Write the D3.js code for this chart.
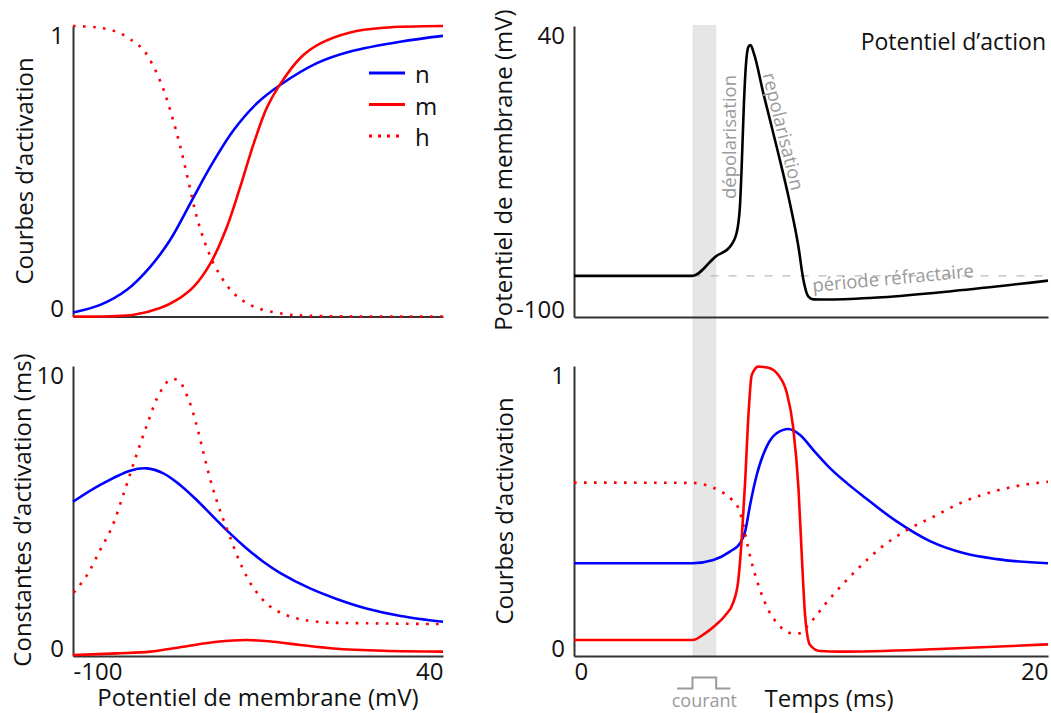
<!DOCTYPE html>
<html><head><meta charset="utf-8">
<script src="https://cdn.jsdelivr.net/npm/d3@7"></script>
<style>
html,body{margin:0;padding:0;background:#fff;}
svg text{font-family:"Open Sans",sans-serif;}
</style></head>
<body><svg id="c" width="1051" height="713"></svg>
<script>
// ---------- DATA ----------
// Steady-state activation (top-left), x = membrane potential (mV)
const nInf = [[-100,0.014],[-89.7,0.04],[-79.6,0.092],[-70.7,0.172],[-63.2,0.264],[-55,0.40],[-48,0.516],[-39.2,0.642],[-30.4,0.734],[-21.6,0.797],[-7.7,0.872],[4.9,0.912],[23.8,0.946],[40,0.966]];
const mInf = [[-100,0],[-77,0.006],[-67,0.029],[-60.7,0.057],[-54.3,0.103],[-48,0.183],[-41.7,0.31],[-36.7,0.447],[-31.6,0.596],[-26.6,0.72],[-21.6,0.80],[-14,0.89],[-6.4,0.94],[4.9,0.978],[17.5,0.994],[40,1.0]];
const hInf = [[-100,1],[-90.9,0.995],[-83.4,0.98],[-77,0.946],[-73.3,0.917],[-69.5,0.86],[-65.7,0.78],[-62.5,0.688],[-59.4,0.585],[-56.2,0.46],[-53.1,0.34],[-49.3,0.235],[-45.5,0.16],[-39.2,0.08],[-31.6,0.034],[-20.3,0.009],[-7.7,0.002],[40,0]];
// Time constants (bottom-left), ms
const tauN = [[-100,5.32],[-89.7,5.9],[-78.4,6.39],[-72.1,6.47],[-65.8,6.30],[-59.5,5.90],[-53.2,5.38],[-46.9,4.80],[-40.6,4.23],[-34.3,3.71],[-28,3.25],[-21.7,2.87],[-10.3,2.33],[0,1.96],[11,1.64],[24,1.38],[40,1.18]];
const tauM = [[-100,0.03],[-83.4,0.09],[-70.8,0.15],[-58.2,0.32],[-45.5,0.49],[-34.2,0.55],[-24.1,0.49],[-14,0.38],[-1.4,0.26],[17.5,0.18],[40,0.15]];
const tauH = [[-99.7,2.18],[-94.7,2.79],[-89.7,3.66],[-85.2,4.46],[-80.8,5.61],[-76.4,6.82],[-72,7.97],[-68.2,8.89],[-65.7,9.29],[-63.2,9.54],[-60,9.49],[-56.2,8.83],[-53.1,7.91],[-50.6,6.99],[-48,6.07],[-44.9,5.15],[-41.1,4.23],[-36.7,3.2],[-31.6,2.33],[-25.3,1.70],[-17.8,1.36],[-7.7,1.18],[11.2,1.13],[40,1.10]];
// Action potential (top-right), x = time (ms), y = mV
const vMem = [[0,-80.2],[5,-80.2],[6,-70.7],[6.58,-66.2],[6.86,-59.6],[7.0,-47],[7.07,-29.3],[7.17,2.9],[7.26,22.2],[7.36,30],[7.45,30.8],[7.59,26.8],[7.99,7.6],[8.55,-18.1],[9.11,-45.3],[9.47,-66.2],[9.68,-82.2],[9.89,-90.2],[10.1,-91.5],[10.8,-91.6],[13,-90.5],[16,-87.5],[20,-82.5]];
// Gating variables over time (bottom-right)
const nT = [[0,0.32],[5,0.32],[5.88,0.331],[6.58,0.36],[7.0,0.388],[7.22,0.429],[7.43,0.521],[7.71,0.624],[8.13,0.722],[8.55,0.768],[9.05,0.783],[9.54,0.762],[10.1,0.71],[10.8,0.648],[11.5,0.597],[12.2,0.551],[13.6,0.465],[15.02,0.396],[16.43,0.355],[17.84,0.334],[20,0.32]];
const mT = [[0,0.055],[5,0.055],[5.53,0.078],[5.98,0.107],[6.37,0.139],[6.72,0.185],[6.93,0.26],[7.07,0.395],[7.22,0.60],[7.36,0.83],[7.5,0.969],[7.78,0.998],[8.2,0.994],[8.62,0.969],[8.97,0.91],[9.25,0.787],[9.47,0.58],[9.61,0.348],[9.75,0.141],[9.96,0.038],[10.38,0.017],[11.2,0.015],[15.4,0.024],[20,0.04]];
const hT = [[0,0.598],[5,0.597],[5.46,0.592],[5.88,0.58],[6.27,0.564],[6.65,0.54],[6.93,0.511],[7.07,0.477],[7.26,0.406],[7.45,0.337],[7.71,0.262],[7.85,0.228],[8.2,0.159],[8.41,0.13],[8.69,0.102],[9.08,0.08],[9.3,0.077],[9.51,0.078],[9.84,0.102],[10.13,0.13],[10.41,0.159],[10.69,0.188],[11.0,0.217],[11.93,0.297],[12.91,0.371],[14.04,0.434],[15.16,0.48],[16.43,0.532],[17.69,0.567],[18.96,0.59],[20,0.601]];
// Stimulus current pulse (ms)
const pulse = [5, 6];
// Tick labels
const vTicks = [-100, 40];
const actTicks = [0, 1];
const tauTicks = [0, 10];
const tTicks = [0, 20];
const legendNames = ["n", "m", "h"];

// ---------- LAYOUT ----------
const svg = d3.select("#c");
const BLUE = "#0000ff", RED = "#ff0000", AX = "#333";
const xL = d3.scaleLinear().domain([-100, 40]).range([73, 443]);
const xR = d3.scaleLinear().domain([0, 20]).range([574, 1048]);
const yTL = d3.scaleLinear().domain([0, 1]).range([316.5, 26]);
const yBL = d3.scaleLinear().domain([0, 10]).range([656, 366]);
const yTR = d3.scaleLinear().domain([-100, 40]).range([317, 26]);
const yBR = d3.scaleLinear().domain([0, 1]).range([656, 366]);

const styles = {
  n: {stroke: BLUE, dash: null},
  m: {stroke: RED, dash: null},
  h: {stroke: RED, dash: "2.6,7.4"},
  v: {stroke: "#000", dash: null}
};
const smooth = d3.curveCatmullRom.alpha(0.5), mono = d3.curveMonotoneX;

function drawLine(data, xs, ys, st, curve) {
  const line = d3.line().x(d => xs(d[0])).y(d => ys(d[1])).curve(curve);
  svg.append("path").datum(data).attr("d", line)
    .attr("fill", "none").attr("stroke", st.stroke).attr("stroke-width", 2.6)
    .attr("stroke-dasharray", st.dash).attr("stroke-linejoin", "round");
}

// gray stimulus band (behind)
svg.append("rect").attr("x", xR(pulse[0])).attr("width", xR(pulse[1]) - xR(pulse[0]))
  .attr("y", 25).attr("height", 631).attr("fill", "#e6e6e6");

// refractory dashed line at resting level
svg.append("line").attr("x1", xR(pulse[0])).attr("x2", xR(20))
  .attr("y1", yTR(vMem[0][1])).attr("y2", yTR(vMem[0][1]))
  .attr("stroke", "#bbb").attr("stroke-width", 1.3).attr("stroke-dasharray", "8,10");

const fmt = d => String(d);
// axes
function yAxis(scale, x, ticks) {
  const g = svg.append("g").attr("transform", `translate(${x},0)`)
    .call(d3.axisLeft(scale).tickValues(ticks).tickSize(0).tickSizeOuter(0).tickPadding(9).tickFormat(fmt));
  g.select(".domain").attr("stroke", AX).attr("stroke-width", 2);
  g.selectAll("text").attr("font-size", 24).attr("fill", "#111").attr("font-family", "Open Sans")
    .attr("dy", d => d === ticks[1] ? "0.74em" : "0em");
  return g;
}
function xAxis(scale, y, ticks, labels) {
  const g = svg.append("g").attr("transform", `translate(0,${y})`)
    .call(d3.axisBottom(scale).tickValues(ticks).tickSize(0).tickSizeOuter(0).tickPadding(7).tickFormat(fmt));
  g.select(".domain").attr("stroke", AX).attr("stroke-width", 2);
  g.selectAll("text").attr("font-size", 24).attr("fill", "#111").attr("font-family", "Open Sans")
    .attr("text-anchor", d => d === ticks[0] ? "start" : "end")
    .attr("opacity", labels ? 1 : 0);
  return g;
}
yAxis(yTL, 73, actTicks); xAxis(xL, 316.5, vTicks, false);
yAxis(yBL, 73, tauTicks); xAxis(xL, 656, vTicks, true);
yAxis(yTR, 574, vTicks); xAxis(xR, 317, tTicks, false);
yAxis(yBR, 574, actTicks); xAxis(xR, 656, tTicks, true);

// curves
drawLine(nInf, xL, yTL, styles.n, smooth);
drawLine(mInf, xL, yTL, styles.m, smooth);
drawLine(hInf, xL, yTL, styles.h, smooth);
drawLine(tauN, xL, yBL, styles.n, smooth);
drawLine(tauM, xL, yBL, styles.m, smooth);
drawLine(tauH, xL, yBL, styles.h, smooth);
drawLine(vMem, xR, yTR, styles.v, mono);
drawLine(nT, xR, yBR, styles.n, mono);
drawLine(mT, xR, yBR, styles.m, mono);
drawLine(hT, xR, yBR, styles.h, mono);

// legend
legendNames.forEach((k, i) => {
  const y = 73 + i * 31.5;
  svg.append("line").attr("x1", 369).attr("x2", 405).attr("y1", y).attr("y2", y)
    .attr("stroke", styles[k].stroke).attr("stroke-width", 3).attr("stroke-dasharray", k === "h" ? "3,6" : null);
  svg.append("text").attr("x", 415).attr("y", y + 10).attr("font-size", 24).attr("fill", "#111").text(k);
});

// axis titles
function vTitle(txt, x, y) {
  svg.append("text").attr("transform", `translate(${x},${y}) rotate(-90)`)
    .attr("text-anchor", "middle").attr("font-size", 24).attr("fill", "#111").text(txt);
}
vTitle("Courbes d’activation", 33, 171);
vTitle("Constantes d’activation (ms)", 31, 510);
vTitle("Potentiel de membrane (mV)", 512, 170);
vTitle("Courbes d’activation", 513, 511);
svg.append("text").attr("x", 258).attr("y", 706).attr("text-anchor", "middle")
  .attr("font-size", 24).attr("fill", "#111").text("Potentiel de membrane (mV)");
svg.append("text").attr("x", 829).attr("y", 707).attr("text-anchor", "middle")
  .attr("font-size", 24).attr("fill", "#111").text("Temps (ms)");
svg.append("text").attr("x", 1046).attr("y", 50).attr("text-anchor", "end")
  .attr("font-size", 23).attr("fill", "#111").text("Potentiel d’action");

// annotations
const GRAY = "#9a9a9a";
svg.append("text").attr("transform", "translate(736,137) rotate(-90)").attr("text-anchor", "middle")
  .attr("font-size", 18.5).attr("fill", GRAY).text("dépolarisation");
svg.append("text").attr("transform", "translate(777,133) rotate(76)").attr("text-anchor", "middle")
  .attr("font-size", 18.5).attr("fill", GRAY).text("repolarisation");
svg.append("text").attr("transform", "translate(813,292) rotate(-5.3)")
  .attr("font-size", 18.5).attr("fill", GRAY).text("période réfractaire");

// current pulse marker
const pY0 = 688.5, pY1 = 677.5;
const pulsePts = [[pulse[0] - 0.65, pY0], [pulse[0], pY0], [pulse[0], pY1], [pulse[1], pY1], [pulse[1], pY0], [pulse[1] + 0.6, pY0]];
svg.append("path").datum(pulsePts).attr("d", d3.line().x(d => xR(d[0])).y(d => d[1]))
  .attr("fill", "none").attr("stroke", GRAY).attr("stroke-width", 2);
svg.append("text").attr("x", xR((pulse[0] + pulse[1]) / 2)).attr("y", 707).attr("text-anchor", "middle")
  .attr("font-size", 18).attr("fill", GRAY).text("courant");
</script></body></html>
